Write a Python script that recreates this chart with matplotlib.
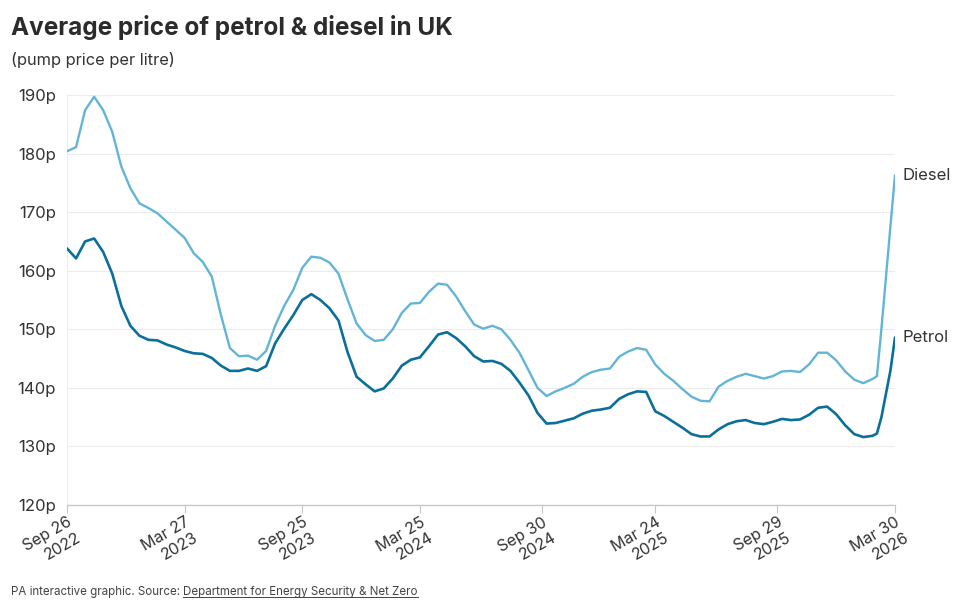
import matplotlib
matplotlib.use("Agg")
import matplotlib.pyplot as plt
import numpy as np
import pandas as pd

plt.rcParams['font.family'] = ['Inter', 'DejaVu Sans']

# weeks since Mon 26 Sep 2022 (fortnightly, weekly at the very end)
weeks = list(range(0, 179, 2)) + [179, 180, 181, 182, 183]

diesel = [
    180.4, 181.1, 187.4, 189.7, 187.4, 183.7, 177.8, 174.1, 171.5, 170.7,
    169.8, 168.4, 167.0, 165.6, 163.0, 161.5, 159.0, 152.5, 146.8, 145.4,
    145.5, 144.8, 146.3, 150.6, 154.0, 156.7, 160.5, 162.4, 162.2, 161.4,
    159.5, 155.1, 151.0, 149.0, 148.0, 148.2, 150.0, 152.8, 154.4, 154.5,
    156.4, 157.8, 157.6, 155.6, 153.1, 150.8, 150.1, 150.6, 150.0, 148.2,
    146.0, 143.0, 140.0, 138.6, 139.4, 140.0, 140.7, 141.9, 142.7, 143.1,
    143.3, 145.3, 146.2, 146.8, 146.5, 144.0, 142.4, 141.2, 139.8, 138.5,
    137.8, 137.7, 140.2, 141.2, 141.9, 142.4, 142.0, 141.6, 142.0, 142.8,
    142.9, 142.7, 144.0, 146.0, 146.0, 144.7, 142.8, 141.4, 140.8, 141.5,
    142.0, 150.1, 158.9, 167.7, 176.3,
]

petrol = [
    163.8, 162.1, 165.0, 165.5, 163.2, 159.5, 154.0, 150.6, 148.9, 148.2,
    148.1, 147.4, 146.9, 146.3, 145.9, 145.8, 145.1, 143.8, 142.9, 142.9,
    143.3, 142.9, 143.7, 147.6, 150.1, 152.4, 155.0, 156.0, 155.0, 153.6,
    151.5, 146.1, 141.9, 140.6, 139.4, 139.9, 141.6, 143.8, 144.8, 145.2,
    147.1, 149.1, 149.5, 148.5, 147.1, 145.4, 144.5, 144.6, 144.1, 142.9,
    140.9, 138.7, 135.7, 133.9, 134.0, 134.4, 134.8, 135.6, 136.1, 136.3,
    136.6, 138.1, 138.9, 139.4, 139.3, 136.0, 135.2, 134.2, 133.2, 132.1,
    131.7, 131.7, 132.9, 133.8, 134.3, 134.5, 134.0, 133.8, 134.2, 134.7,
    134.5, 134.6, 135.4, 136.6, 136.8, 135.5, 133.6, 132.1, 131.6, 131.8,
    132.2, 135.0, 139.0, 143.0, 148.6,
]

tick_dates = ["2022-09-26", "2023-03-27", "2023-09-25", "2024-03-25",
              "2024-09-30", "2025-03-24", "2025-09-29", "2026-03-30"]
tick_labels = ["Sep 26\n2022", "Mar 27\n2023", "Sep 25\n2023", "Mar 25\n2024",
               "Sep 30\n2024", "Mar 24\n2025", "Sep 29\n2025", "Mar 30\n2026"]
y_ticks = [120, 130, 140, 150, 160, 170, 180, 190]

start = pd.Timestamp("2022-09-26")
dates = start + pd.to_timedelta(np.array(weeks) * 7, unit="D")

fig = plt.figure(figsize=(9.6, 6.11), dpi=100)
ax = fig.add_axes([0.0698, 0.1735, 0.8625, 0.671])

ax.plot(dates, diesel, color="#62b5d6", lw=1.7, solid_capstyle="round", zorder=3)
ax.plot(dates, petrol, color="#0a6f9a", lw=1.9, solid_capstyle="round", zorder=4)

ax.set_xlim(start, pd.Timestamp("2026-03-30"))
ax.set_ylim(120, 190)
ax.set_yticks(y_ticks)
ax.set_yticklabels([f"{v}p" for v in y_ticks])
ax.set_xticks(pd.to_datetime(tick_dates))
ax.set_xticklabels(tick_labels, rotation=30, ha="right", va="top",
                   rotation_mode="anchor", multialignment="right")

ax.grid(axis="y", color="#ececec", lw=0.8)
ax.set_axisbelow(True)
for s in ["top", "right"]:
    ax.spines[s].set_visible(False)
ax.spines["left"].set_color("#eeeeee")
ax.spines["left"].set_linewidth(0.8)
ax.spines["bottom"].set_color("#c8c8c8")
ax.spines["bottom"].set_linewidth(1.0)
ax.tick_params(axis="y", length=0, pad=8, labelsize=12, labelcolor="#333333")
ax.tick_params(axis="x", length=6, width=0.8, color="#c8c8c8", pad=1,
               labelsize=11.5, labelcolor="#333333")

ax.text(1.009, diesel[-1], "Diesel", transform=ax.get_yaxis_transform(),
        va="center", ha="left", fontsize=12, color="#333333")
ax.text(1.009, petrol[-1], "Petrol", transform=ax.get_yaxis_transform(),
        va="center", ha="left", fontsize=12, color="#333333")

fig.text(0.0115, 0.955, "Average price of petrol & diesel in UK",
         fontsize=17.5, fontweight="bold", color="#2b2b2b", va="center")
fig.text(0.0115, 0.902, "(pump price per litre)", fontsize=11.8,
         color="#333333", va="center")

# footer with underlined source link
fig.canvas.draw()
r = fig.canvas.get_renderer()
t1 = fig.text(0.0115, 0.031, "PA interactive graphic. Source: ", fontsize=8.3,
              color="#444444", va="center")
bb = t1.get_window_extent(renderer=r)
x2 = bb.x1 / fig.bbox.width
t2 = fig.text(x2, 0.031, "Department for Energy Security & Net Zero",
              fontsize=8.3, color="#444444", va="center")
bb2 = t2.get_window_extent(renderer=r)
yline = (bb2.y0 + 1) / fig.bbox.height
fig.add_artist(plt.Line2D([bb2.x0 / fig.bbox.width, bb2.x1 / fig.bbox.width],
                          [yline, yline], color="#444444", lw=0.7))

fig.savefig("out.png", dpi=100)
